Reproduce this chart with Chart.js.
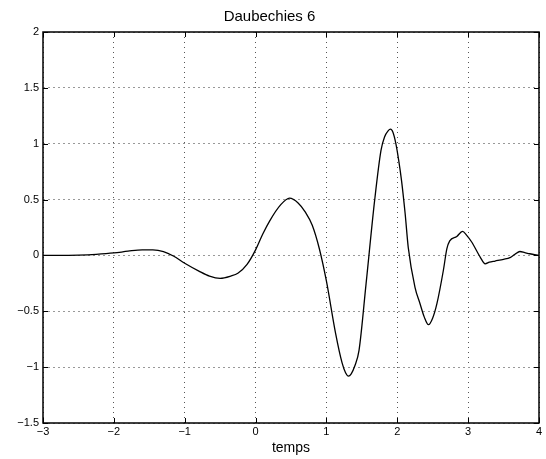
<!DOCTYPE html>
<html>
<head>
<meta charset="utf-8">
<script src="https://cdn.jsdelivr.net/npm/chart.js@4"></script>
<style>
  html, body { margin: 0; padding: 0; background: #fff; }
  #wrap { width: 546px; height: 459px; }
</style>
</head>
<body>
<div id="wrap"><canvas id="wavelet"></canvas></div>
<script>
// time axis (temps) and wavelet values
const tValues = [-3.0, -2.75, -2.5, -2.25, -2.0, -1.8, -1.6, -1.45, -1.3, -1.16, -1.0, -0.8, -0.65, -0.5, -0.35, -0.25, -0.12,
  0.0, 0.1, 0.2, 0.35, 0.48, 0.6, 0.7, 0.8, 0.9, 1.0, 1.13, 1.22, 1.27, 1.31, 1.35, 1.4, 1.46, 1.56, 1.68, 1.77, 1.82, 1.87,
  1.905, 1.94, 1.98, 2.02, 2.06, 2.11, 2.155, 2.25, 2.32, 2.38, 2.44, 2.5, 2.56, 2.65, 2.7, 2.74, 2.84, 2.92, 2.98, 3.05,
  3.17, 3.24, 3.3, 3.38, 3.5, 3.59, 3.66, 3.73, 3.8, 3.87, 4.0];
const psiValues = [0, 0, 0.003, 0.01, 0.022, 0.038, 0.05, 0.05, 0.035, -0.005, -0.07, -0.14, -0.185, -0.205, -0.185, -0.16, -0.08,
  0.05, 0.19, 0.31, 0.45, 0.513, 0.47, 0.39, 0.27, 0.06, -0.23, -0.7, -0.96, -1.05, -1.08, -1.06, -0.99, -0.85, -0.25, 0.49, 0.94, 1.06, 1.115,
  1.13, 1.1, 1.0, 0.85, 0.67, 0.38, 0.07, -0.285, -0.43, -0.55, -0.62, -0.56, -0.43, -0.135, 0.06, 0.13, 0.17, 0.215, 0.18, 0.12,
  -0.015, -0.075, -0.06, -0.05, -0.035, -0.02, 0.01, 0.035, 0.025, 0.015, 0];
const xTicks = [-3, -2, -1, 0, 1, 2, 3, 4];
const yTicks = [-1.5, -1, -0.5, 0, 0.5, 1, 1.5, 2];

const points = tValues.map((t, i) => ({ x: t, y: psiValues[i] }));
const fmt = v => String(v).replace('-', '\u2212');

// matlab style box with inward ticks
const boxPlugin = {
  id: 'box',
  afterDraw(chart) {
    const { ctx, chartArea: a, scales } = chart;
    ctx.save();
    ctx.strokeStyle = '#000';
    ctx.lineWidth = 1;
    ctx.beginPath();
    xTicks.forEach(v => {
      const px = Math.round(scales.x.getPixelForValue(v)) + 0.5;
      ctx.moveTo(px, a.bottom); ctx.lineTo(px, a.bottom - 5);
      ctx.moveTo(px, a.top); ctx.lineTo(px, a.top + 5);
    });
    yTicks.forEach(v => {
      const py = Math.round(scales.y.getPixelForValue(v)) + 0.5;
      ctx.moveTo(a.left, py); ctx.lineTo(a.left + 5, py);
      ctx.moveTo(a.right, py); ctx.lineTo(a.right - 5, py);
    });
    ctx.stroke();
    ctx.lineWidth = 1.5;
    ctx.strokeRect(a.left, a.top, a.right - a.left, a.bottom - a.top);
    ctx.restore();
  }
};

const tickFont = { family: 'Liberation Sans, Arial, sans-serif', size: 11 };

new Chart(document.getElementById('wavelet'), {
  type: 'line',
  data: {
    datasets: [{
      data: points,
      borderColor: '#000',
      borderWidth: 1.3,
      pointRadius: 0,
      fill: false,
      cubicInterpolationMode: 'monotone'
    }]
  },
  options: {
    responsive: true,
    maintainAspectRatio: false,
    animation: false,
    layout: { padding: { left: 0, right: 7, top: 0, bottom: 2 } },
    plugins: {
      legend: { display: false },
      tooltip: { enabled: false },
      title: {
        display: true,
        text: 'Daubechies 6',
        color: '#000',
        font: { family: 'Liberation Sans, Arial, sans-serif', size: 15, weight: 'normal' },
        padding: { top: 8, bottom: 6 }
      }
    },
    scales: {
      x: {
        type: 'linear',
        min: -3, max: 4,
        afterBuildTicks: s => { s.ticks = xTicks.map(v => ({ value: v })); },
        ticks: { color: '#000', font: tickFont, padding: 2, maxRotation: 0, callback: fmt },
        grid: { color: '#555', lineWidth: 1, drawTicks: false },
        border: { display: false, dash: [1, 4] },
        title: {
          display: true, text: 'temps', color: '#000',
          font: { family: 'Liberation Sans, Arial, sans-serif', size: 14 },
          padding: { top: 0, bottom: 0 }
        }
      },
      y: {
        type: 'linear',
        min: -1.5, max: 2,
        afterBuildTicks: s => { s.ticks = yTicks.map(v => ({ value: v })); },
        afterFit: s => { s.width = 43; },
        ticks: { color: '#000', font: tickFont, padding: 4, callback: fmt },
        grid: { color: '#999', lineWidth: 1, drawTicks: false },
        border: { display: false, dash: [2, 3] }
      }
    }
  },
  plugins: [boxPlugin]
});
</script>
</body>
</html>
